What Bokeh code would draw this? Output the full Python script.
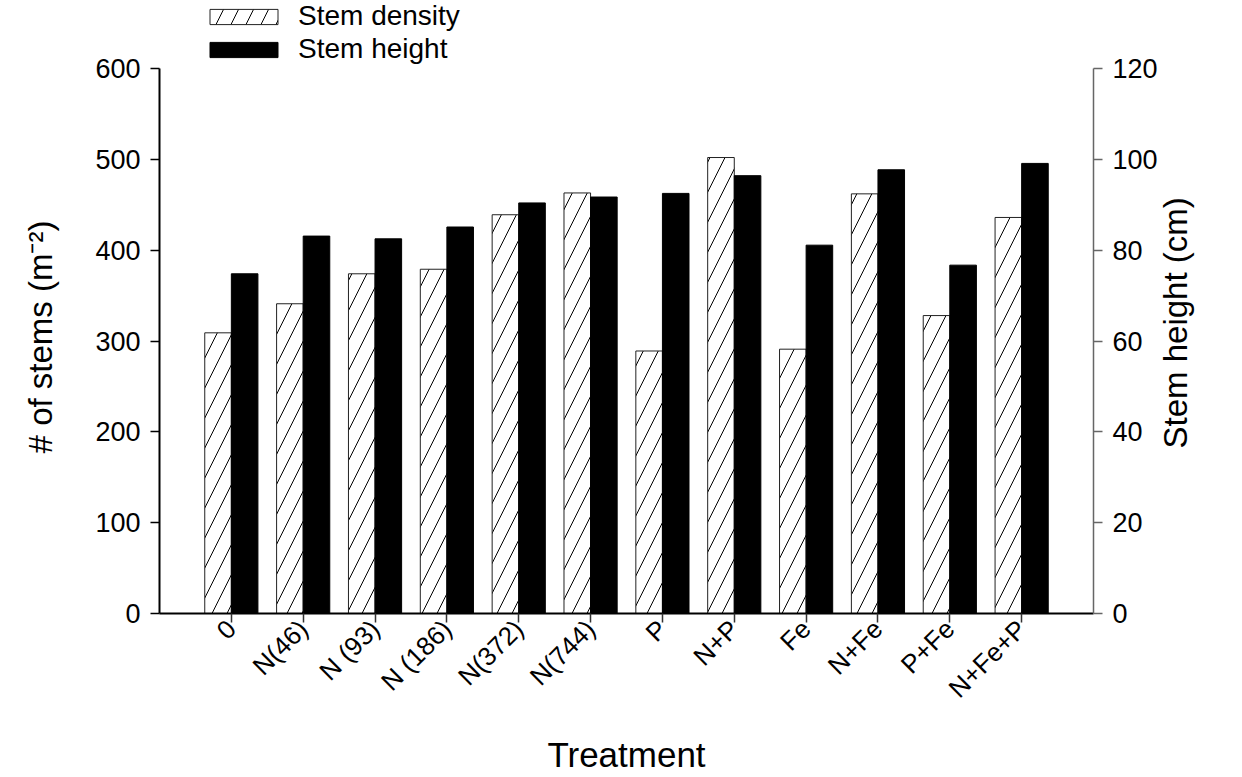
from math import pi
from bokeh.plotting import figure
from bokeh.models import (FactorRange, Range1d, LinearAxis, SingleIntervalTicker,
                          Legend, LegendItem, ColumnDataSource)
from bokeh.transform import dodge
from bokeh.embed import file_html
from bokeh.resources import INLINE

# ---- data ----
treatments = ["0", "N(46)", "N (93)", "N (186)", "N(372)", "N(744)",
              "P", "N+P", "Fe", "N+Fe", "P+Fe", "N+Fe+P"]
stem_density = [309, 341, 374, 379, 439, 463, 289, 502, 291, 462, 328, 436]
stem_height = [74.8, 83.1, 82.5, 85.1, 90.4, 91.7, 92.5, 96.4, 81.1, 97.7, 76.7, 99.1]
left_axis = (0, 600)
right_axis = (0, 120)

FONT = "Liberation Sans"
NB = "\u00a0"

# layout (pixels): axis part of the frame is 545 px tall; 68 px of blank
# frame space is left above it for the legend
AXIS_PX = 545
TOP_PX = 68
ext = (AXIS_PX + TOP_PX) / AXIS_PX

src = ColumnDataSource(dict(t=treatments, d=stem_density, h=stem_height))

p = figure(x_range=FactorRange(factors=treatments, range_padding=1/12),
           y_range=Range1d(left_axis[0], left_axis[1] * ext),
           width=1242, height=777,
           min_border_left=159, min_border_right=149,
           min_border_top=0, min_border_bottom=164,
           output_backend="svg", toolbar_location=None)
p.extra_y_ranges = {"h": Range1d(right_axis[0], right_axis[1] * ext)}
p.outline_line_color = None
p.xgrid.grid_line_color = None
p.ygrid.grid_line_color = None
p.background_fill_color = "white"
p.border_fill_color = "white"

bw = 0.37
r_d = p.vbar(x=dodge("t", -bw / 2, range=p.x_range), top="d", width=bw, source=src,
             fill_color="white", line_color="#222222", line_width=1,
             hatch_pattern="/", hatch_color="black", hatch_weight=1, hatch_scale=30)
r_h = p.vbar(x=dodge("t", bw / 2, range=p.x_range), top="h", width=bw, source=src,
             y_range_name="h", fill_color="black", line_color="black", line_width=1)

# left axis
ya = p.yaxis[0]
ya.bounds = left_axis
ya.ticker = SingleIntervalTicker(interval=100)
ya.axis_label = "# of stems (m\u207b\u00b2)" + NB * 24
ya.axis_label_orientation = pi / 2
ya.axis_label_align = "end"
ya.axis_label_text_font = FONT
ya.axis_label_text_font_size = "33px"
ya.axis_label_text_font_style = "normal"
ya.axis_label_text_color = "black"
ya.axis_label_standoff = 52
ya.major_label_text_font = FONT
ya.major_label_text_font_size = "27px"
ya.major_label_text_color = "black"
ya.major_label_standoff = 10
ya.major_tick_in = 0
ya.major_tick_out = 9
ya.minor_tick_out = 0
ya.minor_tick_in = 0
ya.axis_line_width = 2
ya.axis_line_color = "black"
ya.major_tick_line_color = "black"
ya.major_tick_line_width = 1.5

# right axis
ra = LinearAxis(y_range_name="h", ticker=SingleIntervalTicker(interval=20))
ra.bounds = right_axis
ra.axis_label = NB * 18 + "Stem height (cm)"
ra.axis_label_orientation = pi / 2
ra.axis_label_align = "start"
ra.axis_label_text_font = FONT
ra.axis_label_text_font_size = "33px"
ra.axis_label_text_font_style = "normal"
ra.axis_label_text_color = "black"
ra.axis_label_standoff = 15
ra.major_label_text_font = FONT
ra.major_label_text_font_size = "27px"
ra.major_label_text_color = "black"
ra.major_label_standoff = 10
ra.major_tick_in = 0
ra.major_tick_out = 9
ra.minor_tick_out = 0
ra.minor_tick_in = 0
ra.axis_line_color = "#666666"
ra.axis_line_width = 1.5
ra.major_tick_line_color = "#666666"
ra.major_tick_line_width = 1.5
p.add_layout(ra, "right")

# bottom axis
xa = p.xaxis[0]
xa.axis_label = "Treatment"
xa.axis_label_text_font = FONT
xa.axis_label_text_font_size = "35px"
xa.axis_label_text_font_style = "normal"
xa.axis_label_text_color = "black"
xa.axis_label_standoff = 18
xa.major_label_orientation = pi / 4
xa.major_label_text_font = FONT
xa.major_label_text_font_size = "26px"
xa.major_label_text_color = "black"
xa.major_label_standoff = 2
xa.major_tick_in = 0
xa.major_tick_out = 9
xa.major_tick_line_color = "#333333"
xa.major_tick_line_width = 1.5
xa.axis_line_width = 2
xa.axis_line_color = "black"

legend = Legend(items=[LegendItem(label="Stem density", renderers=[r_d]),
                       LegendItem(label="Stem height", renderers=[r_h])],
                location=(42, AXIS_PX + 3), orientation="vertical",
                glyph_width=85, glyph_height=19, label_standoff=12,
                label_text_font=FONT, label_text_font_size="28px",
                label_text_color="black", spacing=1, padding=0, margin=0,
                border_line_color=None, background_fill_alpha=0)
p.add_layout(legend, "center")

open("out.html", "w").write(file_html(p, INLINE))
